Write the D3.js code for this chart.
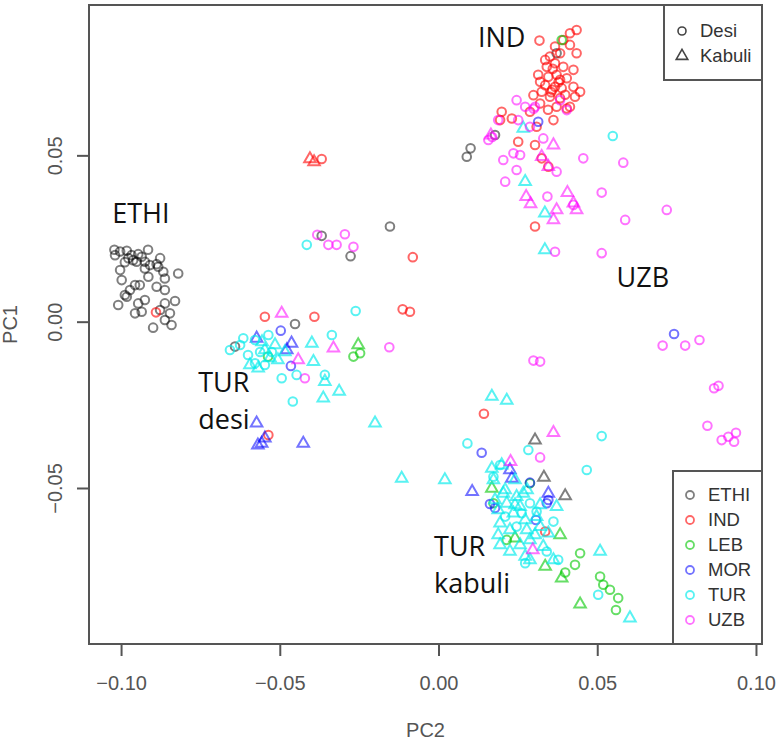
<!DOCTYPE html>
<html>
<head>
<meta charset="utf-8">
<script src="https://cdn.jsdelivr.net/npm/d3@7"></script>
<style>
  body { margin: 0; background: #fff; }
  svg { display: block; }
</style>
</head>
<body>
<div class="canvas"></div>
<script>
// groups and their colours (R palette with alpha)
const groups = ["ETHI", "IND", "LEB", "MOR", "TUR", "UZB"];
const groupColors = ["rgba(0,0,0,0.5)", "rgba(255,0,0,0.6)", "rgba(0,200,0,0.6)",
                     "rgba(0,0,255,0.55)", "rgba(0,235,235,0.65)", "rgba(255,0,255,0.55)"];
const types = ["Desi", "Kabuli"];

const xTicks = [-0.10, -0.05, 0.00, 0.05, 0.10];
const xTickLabels = ["\u22120.10", "\u22120.05", "0.00", "0.05", "0.10"];
const yTicks = [-0.05, 0.00, 0.05];
const yTickLabels = ["\u22120.05", "0.00", "0.05"];

// [PC2, PC1]
const ethiDesi = [
  [-0.1021,0.0216],[-0.1003,0.0211],[-0.0982,0.0213],[-0.0967,0.0200],[-0.0946,0.0203],
  [-0.0935,0.0195],[-0.0962,0.0185],[-0.0951,0.0180],[-0.0925,0.0180],[-0.0909,0.0170],
  [-0.0888,0.0173],[-0.0883,0.0165],[-0.0867,0.0150],[-0.0820,0.0145],[-0.0998,0.0125],
  [-0.0956,0.0110],[-0.0941,0.0110],[-0.0914,0.0135],[-0.0888,0.0105],[-0.0862,0.0130],
  [-0.0862,0.0095],[-0.0982,0.0075],[-0.1009,0.0050],[-0.0946,0.0055],[-0.0862,0.0055],
  [-0.0830,0.0062],[-0.0956,0.0025],[-0.0935,0.0030],[-0.0846,0.0025],[-0.0862,0.0005],
  [-0.0841,-0.0010],[-0.0899,-0.0018],[-0.0988,0.0080],[-0.0925,0.0160],[-0.0977,0.0191],
  [-0.1019,0.0200],[-0.0988,0.0179],[-0.0915,0.0216],[-0.0877,0.0191],[-0.0972,0.0095],
  [-0.0925,0.0065],[-0.0877,0.0035],[-0.1003,0.0155],
  [-0.0368,0.0258],[-0.0153,0.0286],[0.0089,0.0496],[0.0101,0.0521],[0.0178,0.0561],
  [-0.0277,0.0197],[-0.0452,-0.0007],[-0.0641,-0.0075],[0.0372,0.0807]
];
const ethiKabuli = [[0.0304,-0.0356],[0.0332,-0.0468],[0.0399,-0.0524]];

const indDesi = [
  [0.0318,0.0845],[0.0435,0.0877],[0.0414,0.0867],[0.0393,0.0847],[0.0367,0.0827],
  [0.0383,0.0807],[0.0414,0.0832],[0.0435,0.0807],[0.0351,0.0797],[0.0367,0.0777],
  [0.0393,0.0766],[0.0425,0.0757],[0.0341,0.0766],[0.0314,0.0742],[0.0346,0.0736],
  [0.0372,0.0742],[0.0404,0.0732],[0.0336,0.0711],[0.0367,0.0706],[0.0388,0.0702],
  [0.0425,0.0706],[0.0446,0.0691],[0.0430,0.0676],[0.0299,0.0681],[0.0325,0.0691],
  [0.0351,0.0676],[0.0383,0.0672],[0.0404,0.0641],[0.0372,0.0646],[0.0320,0.0656],
  [0.0199,0.0631],[0.0231,0.0611],[0.0194,0.0606],[0.0362,0.0606],[0.0309,0.0586],
  [0.0251,0.0541],[0.0304,0.0531],[0.0325,0.0491],[0.0346,0.0466],[0.0304,0.0286],
  [0.0414,0.0646],[0.0360,0.0760],[0.0378,0.0720],[0.0355,0.0690],
  [0.0336,0.0787],[0.0383,0.0727],[0.0358,0.0697],[0.0399,0.0682],[0.0320,0.0721],
  [0.0345,0.0637],[0.0288,0.0631],
  [-0.0368,0.0489],[-0.0081,0.0194],[-0.0113,0.0037],[-0.0090,0.0030],[-0.0547,0.0015],
  [-0.0391,0.0015],[0.0143,-0.0277],[0.0336,-0.0631],[-0.0536,-0.0341],[-0.0890,0.0028]
];
const indKabuli = [[-0.0405,0.0489],[-0.0392,0.0480]];

const lebDesi = [
  [0.0388,0.0847],[-0.0268,-0.0105],[-0.0247,-0.0095],[0.0446,-0.0696],[0.0430,-0.0731],
  [0.0399,-0.0754],[0.0509,-0.0766],[0.0519,-0.0791],[0.0540,-0.0806],[0.0566,-0.0831],
  [0.0559,-0.0867],[0.0215,-0.0656],[0.0173,-0.0546],[0.0288,-0.0486],[-0.0537,-0.0105]
];
const lebKabuli = [
  [-0.0253,-0.0070],[0.0383,-0.0641],[0.0336,-0.0736],[0.0388,-0.0771],[0.0446,-0.0849],
  [0.0168,-0.0501],[0.0241,-0.0651]
];

const morDesi = [
  [0.0314,0.0601],[0.0742,-0.0037],[-0.0497,-0.0027],[-0.0465,-0.0133],[0.0136,-0.0394],
  [0.0288,-0.0484],[0.0162,-0.0548],[0.0178,-0.0560],[0.0341,-0.0546],[0.0346,-0.0536],
  [0.0307,-0.0596]
];
const morKabuli = [
  [-0.0573,-0.0050],[-0.0463,-0.0065],[-0.0478,-0.0085],[-0.0573,-0.0305],[-0.0426,-0.0366],
  [-0.0557,-0.0366],[-0.0547,-0.0350],[-0.0569,-0.0371],[0.0106,-0.0511],[0.0225,-0.0446],
  [0.0231,-0.0471],[0.0346,-0.0516]
];

const turDesi = [
  [0.0549,0.0558],[0.0514,-0.0344],[0.0467,-0.0446],[0.0283,-0.0386],[-0.0261,0.0032],
  [-0.0336,-0.0040],[-0.0494,-0.0170],[-0.0447,-0.0160],[-0.0358,-0.0160],[-0.0459,-0.0240],
  [0.0091,-0.0366],[-0.0657,-0.0085],[-0.0615,-0.0050],[-0.0415,0.0231],[-0.0578,-0.0125],
  [-0.0536,-0.0040],[-0.0600,-0.0100],[-0.0562,-0.0091],[-0.0525,-0.0091],[-0.0547,-0.0130],
  [-0.0625,-0.0070],[-0.0578,-0.0055],
  [0.0194,-0.0431],[0.0173,-0.0466],[0.0262,-0.0576],[0.0362,-0.0601],[0.0273,-0.0726],
  [0.0210,-0.0586],[0.0246,-0.0616],[0.0341,-0.0691],[0.0288,-0.0546],[0.0309,-0.0571],
  [0.0377,-0.0716],[0.0503,-0.0821]
];
const turKabuli = [
  [0.0168,-0.0441],[0.0199,-0.0431],[0.0173,-0.0476],[0.0246,-0.0526],[0.0257,-0.0556],
  [0.0194,-0.0606],[0.0188,-0.0641],[0.0225,-0.0691],[0.0273,-0.0706],[0.0278,-0.0626],
  [0.0309,-0.0586],[0.0330,-0.0676],[0.0362,-0.0716],[0.0372,-0.0556],[0.0236,-0.0576],
  [0.0288,-0.0656],[0.0215,-0.0546],[0.0204,-0.0516],[0.0267,-0.0516],[0.0320,-0.0616],
  [0.0346,-0.0636],[0.0188,-0.0566],
  [0.0210,-0.0506],[0.0241,-0.0551],[0.0273,-0.0596],[0.0257,-0.0671],[0.0304,-0.0641],
  [0.0225,-0.0626],[0.0288,-0.0716],[0.0320,-0.0551],[0.0194,-0.0671],[0.0241,-0.0476],
  [0.0178,-0.0536],[0.0279,-0.0506],
  [0.0168,-0.0225],[0.0215,-0.0237],[0.0020,-0.0476],[0.0603,-0.0891],[0.0509,-0.0691],
  [-0.0200,-0.0305],[-0.0116,-0.0471],
  [0.0273,0.0421],[0.0335,0.0326],[0.0335,0.0216],[0.0267,0.0581],
  [-0.0399,-0.0065],[-0.0394,-0.0120],[-0.0358,-0.0180],[-0.0363,-0.0230],[-0.0313,-0.0210],
  [-0.0568,-0.0140],[-0.0547,-0.0085],[-0.0515,-0.0070],[-0.0531,-0.0109],[-0.0594,-0.0130],
  [-0.0484,-0.0091],[-0.0556,-0.0061],[-0.0506,-0.0115]
];

const uzbDesi = [
  [0.0246,0.0666],[0.0273,0.0646],[0.0304,0.0646],[0.0300,0.0640],[0.0251,0.0606],
  [0.0288,0.0586],[0.0383,0.0666],[0.0404,0.0636],[0.0157,0.0546],[0.0204,0.0486],
  [0.0236,0.0506],[0.0257,0.0501],[0.0246,0.0456],[0.0210,0.0421],[0.0330,0.0551],
  [0.0372,0.0451],[0.0456,0.0491],[0.0582,0.0478],[0.0514,0.0388],[0.0343,0.0376],
  [0.0425,0.0351],[0.0588,0.0306],[0.0367,0.0210],[0.0514,0.0206],[0.0188,0.0606],
  [0.0719,0.0336],[0.0299,-0.0117],[0.0320,-0.0120],[0.0706,-0.0072],[0.0777,-0.0072],
  [0.0822,-0.0055],[0.0868,-0.0200],[0.0882,-0.0193],[0.0847,-0.0313],[0.0892,-0.0356],
  [0.0913,-0.0346],[0.0937,-0.0334],[0.0931,-0.0361],[0.0320,-0.0408],[-0.0382,0.0261],
  [-0.0347,0.0231],[-0.0321,0.0231],[-0.0295,0.0263],[-0.0268,0.0225],[-0.0421,-0.0170],
  [-0.0155,-0.0077],[0.0169,0.0555]
];
const uzbKabuli = [
  [0.0362,0.0531],[0.0325,0.0496],[0.0346,0.0466],[0.0276,0.0376],[0.0290,0.0354],
  [0.0406,0.0388],[0.0425,0.0356],[0.0372,0.0336],[0.0362,0.0306],[0.0435,0.0336],
  [0.0362,-0.0334],[0.0227,-0.0421],[0.0297,-0.0686],[-0.0494,0.0025],[-0.0331,-0.0080],
  [-0.0442,-0.0115],[0.0165,0.0561]
];

const seriesData = [
  [ethiDesi, ethiKabuli], [indDesi, indKabuli], [lebDesi, lebKabuli],
  [morDesi, morKabuli], [turDesi, turKabuli], [uzbDesi, uzbKabuli]
];

// text labels placed on the plot
const annotations = [
  { lines: ["ETHI"], pc2: -0.1028, pc1: 0.0298 },
  { lines: ["IND"], pc2: 0.0124, pc1: 0.0825 },
  { lines: ["UZB"], pc2: 0.0561, pc1: 0.0103 },
  { lines: ["TUR", "desi"], pc2: -0.0757, pc1: -0.0210 },
  { lines: ["TUR", "kabuli"], pc2: -0.0014, pc1: -0.0703 }
];

const svgWidth = 776;
const svgHeight = 741;
const plot = { left: 89, right: 762, top: 5, bottom: 644 };
const axisColor = "#555";
const labelFont = '"Liberation Sans", Arial, sans-serif';

const svg = d3.select('.canvas')
  .append('svg')
    .attr('width', svgWidth)
    .attr('height', svgHeight);

const x = d3.scaleLinear().domain([-0.1101, 0.1019]).range([plot.left, plot.right]);
const y = d3.scaleLinear().domain([-0.0969, 0.0952]).range([plot.bottom, plot.top]);

// axes
const xAxis = d3.axisBottom(x)
  .tickValues(xTicks)
  .tickFormat((d, i) => xTickLabels[i])
  .tickSizeInner(12).tickSizeOuter(0).tickPadding(20);
const yAxis = d3.axisLeft(y)
  .tickValues(yTicks)
  .tickFormat((d, i) => yTickLabels[i])
  .tickSizeInner(12).tickSizeOuter(0);

const xAxisGroup = svg.append('g')
  .attr('transform', `translate(0,${plot.bottom})`)
  .call(xAxis);
const yAxisGroup = svg.append('g')
  .attr('transform', `translate(${plot.left},0)`)
  .call(yAxis);

[xAxisGroup, yAxisGroup].forEach(g => {
  g.select('.domain').remove();
  g.selectAll('line').attr('stroke', axisColor).attr('stroke-width', 2);
  g.selectAll('text')
    .attr('fill', axisColor)
    .style('font-family', labelFont)
    .style('font-size', '20px');
});

// R style: y labels run upwards
yAxisGroup.selectAll('text')
  .attr('x', 0)
  .attr('y', 0)
  .attr('dy', 0)
  .attr('text-anchor', 'middle')
  .attr('transform', 'translate(-27,0) rotate(-90)');

// frame
svg.append('rect')
  .attr('x', plot.left).attr('y', plot.top)
  .attr('width', plot.right - plot.left).attr('height', plot.bottom - plot.top)
  .attr('fill', 'none').attr('stroke', axisColor).attr('stroke-width', 2);

// axis titles
svg.append('text')
  .attr('x', (plot.left + plot.right) / 2).attr('y', 737)
  .attr('text-anchor', 'middle')
  .attr('fill', axisColor)
  .style('font-family', labelFont)
  .style('font-size', '20px')
  .text('PC2');
svg.append('text')
  .attr('transform', `translate(17,${(plot.top + plot.bottom) / 2}) rotate(-90)`)
  .attr('text-anchor', 'middle')
  .attr('fill', axisColor)
  .style('font-family', labelFont)
  .style('font-size', '20px')
  .text('PC1');

// points
const triangle = d3.symbol().type(d3.symbolTriangle).size(58);
const pointsGroup = svg.append('g');

seriesData.forEach((pair, gi) => {
  pointsGroup.selectAll(null)
    .data(pair[0])
    .enter()
    .append('circle')
      .attr('cx', d => x(d[0]))
      .attr('cy', d => y(d[1]))
      .attr('r', 4.3)
      .attr('fill', 'none')
      .attr('stroke', groupColors[gi])
      .attr('stroke-width', 2);

  pointsGroup.selectAll(null)
    .data(pair[1])
    .enter()
    .append('path')
      .attr('d', triangle)
      .attr('transform', d => `translate(${x(d[0])},${y(d[1])})`)
      .attr('fill', 'none')
      .attr('stroke', groupColors[gi])
      .attr('stroke-width', 2);
});

// annotations
annotations.forEach(a => {
  const t = svg.append('text')
    .attr('x', x(a.pc2))
    .attr('y', y(a.pc1))
    .attr('fill', '#111')
    .style('font-family', '"Open Sans", sans-serif')
    .style('font-size', '27px');
  a.lines.forEach((line, i) => {
    t.append('tspan')
      .attr('x', x(a.pc2))
      .attr('dy', i === 0 ? 0 : 37)
      .text(line);
  });
});

// legend: Desi / Kabuli
const typeLegend = svg.append('g');
typeLegend.append('rect')
  .attr('x', 664).attr('y', plot.top)
  .attr('width', plot.right - 664).attr('height', 75)
  .attr('fill', '#fff').attr('stroke', axisColor).attr('stroke-width', 2);

types.forEach((t, i) => {
  const cy = 31 + i * 25;
  if (i === 0) {
    typeLegend.append('circle')
      .attr('cx', 682).attr('cy', cy).attr('r', 4)
      .attr('fill', 'none').attr('stroke', '#444').attr('stroke-width', 1.6);
  } else {
    typeLegend.append('path')
      .attr('d', triangle)
      .attr('transform', `translate(682,${cy})`)
      .attr('fill', 'none').attr('stroke', '#444').attr('stroke-width', 1.6);
  }
  typeLegend.append('text')
    .attr('x', 700).attr('y', cy).attr('dy', '0.35em')
    .attr('fill', '#333')
    .style('font-family', labelFont)
    .style('font-size', '18.5px')
    .text(t);
});

// legend: groups
const groupLegend = svg.append('g');
groupLegend.append('rect')
  .attr('x', 673).attr('y', 471)
  .attr('width', plot.right - 673).attr('height', plot.bottom - 471)
  .attr('fill', '#fff').attr('stroke', axisColor).attr('stroke-width', 2);

groups.forEach((g, i) => {
  const cy = 495 + i * 25;
  groupLegend.append('circle')
    .attr('cx', 690).attr('cy', cy).attr('r', 4)
    .attr('fill', 'none').attr('stroke', groupColors[i]).attr('stroke-width', 1.8);
  groupLegend.append('text')
    .attr('x', 708).attr('y', cy).attr('dy', '0.35em')
    .attr('fill', '#333')
    .style('font-family', labelFont)
    .style('font-size', '18.5px')
    .text(g);
});
</script>
</body>
</html>
